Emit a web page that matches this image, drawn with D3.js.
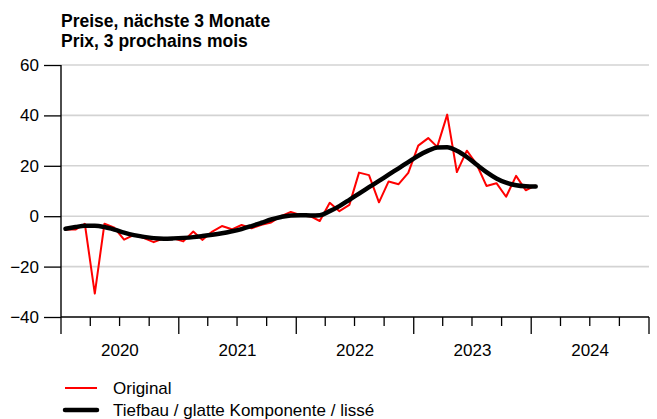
<!DOCTYPE html>
<html><head><meta charset="utf-8">
<script src="https://cdn.jsdelivr.net/npm/d3@7"></script>
<style>body{margin:0;background:#fff}svg{display:block;font-family:"Liberation Sans",Arial,sans-serif}</style>
</head><body><svg id="c" width="657" height="419"></svg>
<script>
const startYear = 2020;
const original = [
  -5.3, -5.3, -3.0, -30.7, -3.0, -4.6, -9.3, -7.4, -8.7, -10.3, -8.8, -8.8,
  -10.0, -6.1, -9.4, -6.1, -3.9, -5.2, -3.5, -4.8, -3.4, -2.5, 0.0, 1.7,
  0.4, -0.1, -1.9, 5.3, 2.0, 4.5, 17.3, 16.3, 5.5, 13.8, 12.7, 17.2,
  28.0, 31.0, 27.5, 40.3, 17.5, 26.0, 20.7, 12.0, 13.1, 7.7, 16.0, 10.3,
  12.2
];
const smooth = [
  -5.0, -4.3, -3.8, -3.8, -4.3, -5.3, -6.5, -7.5, -8.2, -8.7, -8.9, -8.8,
  -8.6, -8.3, -7.9, -7.4, -6.8, -6.0, -5.1, -3.9, -2.6, -1.3, -0.3, 0.3,
  0.4, 0.3, 0.4, 2.0, 4.0, 6.5, 9.0, 11.5, 14.0, 16.5, 19.0, 21.5,
  24.0, 26.0, 27.3, 27.4, 26.0, 23.5, 20.5, 17.5, 15.0, 13.3, 12.3, 11.9,
  11.8
];
const yTicks = [-40, -20, 0, 20, 40, 60];
const yearLabels = ["2020", "2021", "2022", "2023", "2024"];
const titleLines = ["Preise, nächste 3 Monate", "Prix, 3 prochains mois"];
const legendLabels = ["Original", "Tiefbau / glatte Komponente / lissé"];

const FS = 17;
const svg = d3.select("#c");
const x = d3.scaleTime().domain([new Date(2020,0,1), new Date(2025,0,1)]).range([61, 649]);
const y = d3.scaleLinear().domain([-40, 60]).range([317, 65]);
const mid = i => new Date(startYear, i, 15);

// gridlines
svg.append("g").selectAll("line").data(yTicks.filter(d => d > -40)).join("line")
  .attr("x1", 61).attr("x2", 649).attr("y1", d => y(d)).attr("y2", d => y(d))
  .attr("stroke", "#d3d3d3").attr("stroke-width", 1.6);

// y axis
const ya = svg.append("g").attr("transform", "translate(61,0)")
  .call(d3.axisLeft(y).tickValues(yTicks).tickSize(17).tickPadding(5).tickFormat(d => d < 0 ? "\u2212" + Math.abs(d) : d));
ya.select(".domain").remove();
ya.selectAll("line").attr("stroke", "#000").attr("stroke-width", 1.3);
ya.selectAll("text").attr("font-size", FS).attr("fill", "#000").attr("font-family", "Liberation Sans, Arial, sans-serif");
svg.append("line").attr("x1", 61).attr("x2", 61).attr("y1", y(60)).attr("y2", y(-40)).attr("stroke", "#000").attr("stroke-width", 1.4);

// x axis
const quarters = d3.timeMonth.every(3).range(new Date(2020,0,1), new Date(2025,0,2));
const xa = svg.append("g").attr("transform", `translate(0,${y(-40)})`);
xa.append("line").attr("x1", 61).attr("x2", 649).attr("stroke", "#000").attr("stroke-width", 1.4);
xa.selectAll("line.t").data(quarters).join("line").attr("class", "t")
  .attr("x1", d => x(d)).attr("x2", d => x(d)).attr("y1", 0)
  .attr("y2", d => d.getMonth() === 0 ? 17 : 9)
  .attr("stroke", "#000").attr("stroke-width", 1.3);
xa.selectAll("text").data(yearLabels).join("text")
  .attr("x", d => (x(new Date(+d,0,1)) + x(new Date(+d+1,0,1))) / 2)
  .attr("y", 38.5).attr("text-anchor", "middle").attr("font-size", FS).text(d => d);

// lines
const lineGen = d3.line().x((d, i) => x(mid(i))).y(d => y(d));
svg.append("path").datum(original).attr("d", lineGen)
  .attr("fill", "none").attr("stroke", "#ff0000").attr("stroke-width", 2).attr("stroke-linejoin", "round");
svg.append("path").datum(smooth).attr("d", lineGen.curve(d3.curveMonotoneX))
  .attr("fill", "none").attr("stroke", "#000").attr("stroke-width", 4.5).attr("stroke-linecap", "round");

// title
svg.append("g").selectAll("text").data(titleLines).join("text")
  .attr("x", 61).attr("y", (d, i) => 27 + i * 20).attr("font-size", 17.5).attr("font-weight", "bold").text(d => d);

// legend
const lg = svg.append("g");
const lcol = ["#ff0000", "#000"], lw = [2, 4.5];
legendLabels.forEach((t, i) => {
  const yy = 388 + i * 22;
  lg.append("line").attr("x1", 65).attr("x2", 97).attr("y1", yy).attr("y2", yy)
    .attr("stroke", lcol[i]).attr("stroke-width", lw[i]).attr("stroke-linecap", i ? "round" : "butt");
  lg.append("text").attr("x", 113).attr("y", yy + 6).attr("font-size", FS).text(t);
});
</script></body></html>
